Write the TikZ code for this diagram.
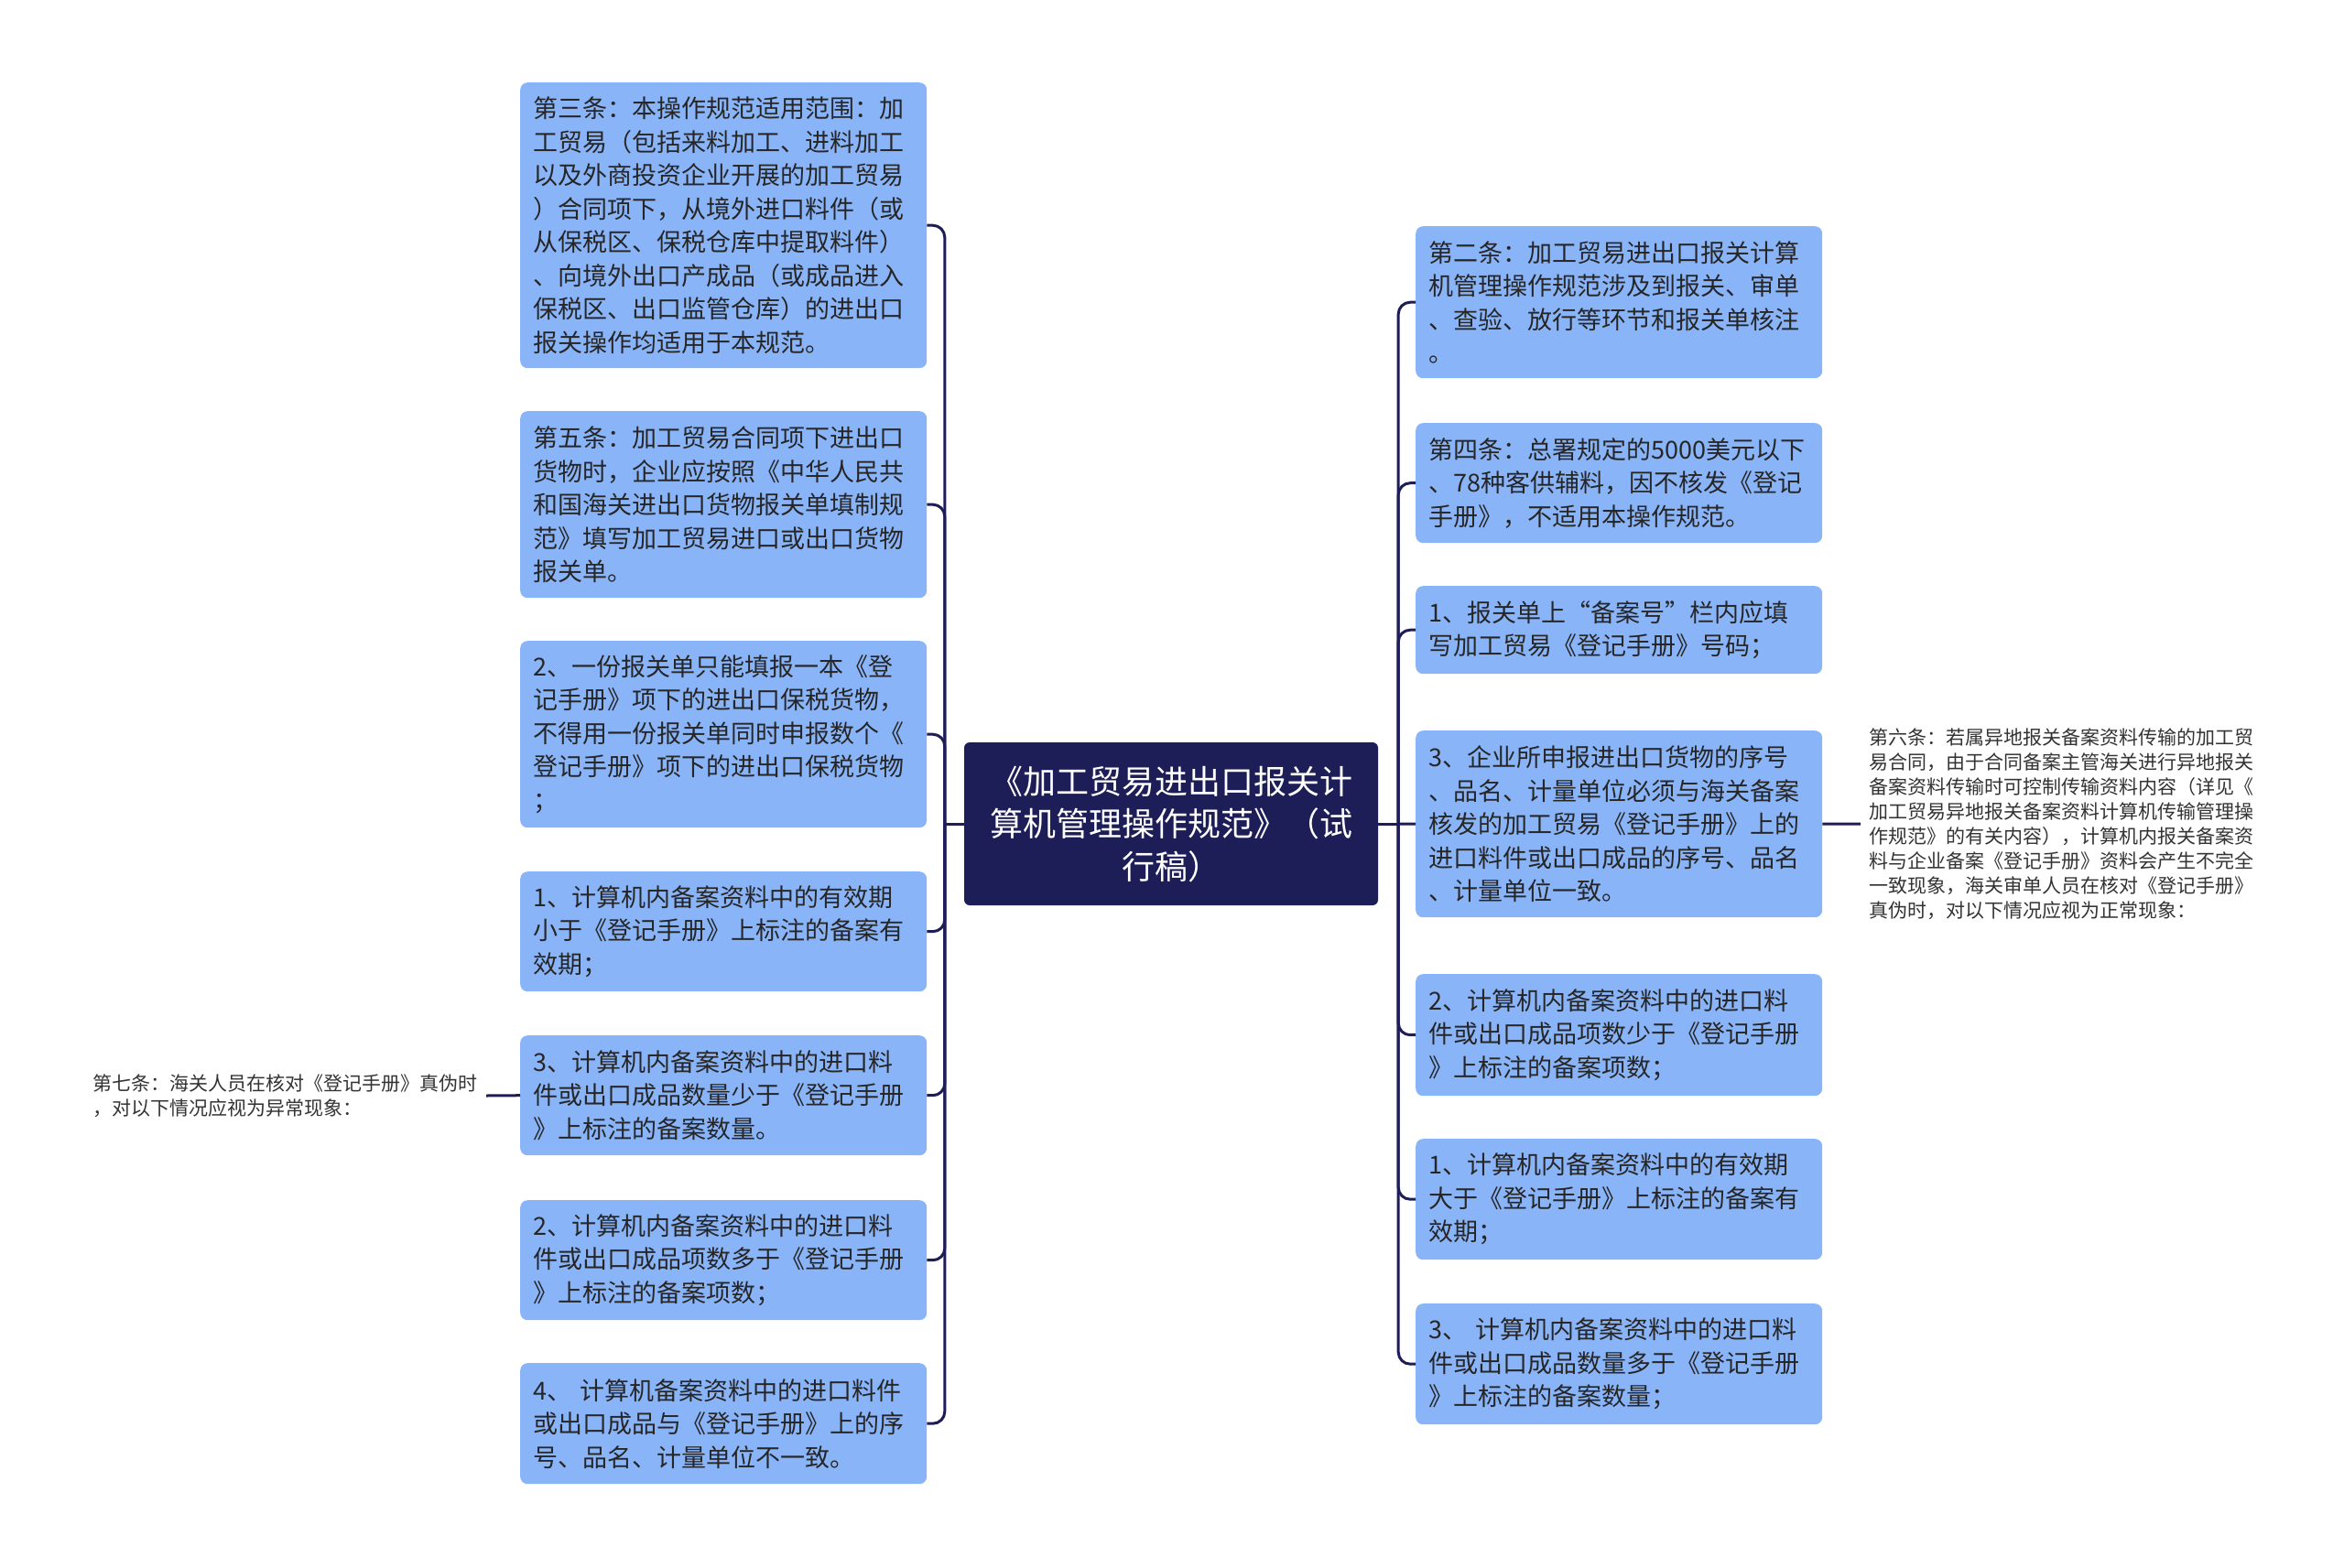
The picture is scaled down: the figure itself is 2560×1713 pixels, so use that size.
\documentclass[tikz,border=0pt]{standalone}
\usepackage{fontspec}
\setmainfont{Noto Sans CJK SC}
\usetikzlibrary{calc,positioning}
\definecolor{navy}{RGB}{29,29,88}
\definecolor{leafblue}{RGB}{138,180,248}
\definecolor{notegray}{RGB}{51,51,51}

\begin{document}
\begin{tikzpicture}[x=1pt,y=-1pt,
root/.style = {rectangle, rounded corners=6pt, fill=navy, text=white, minimum width=452pt,
               minimum height=178pt, text width=430pt, align=center,
               font=\fontsize{36}{46.5}\selectfont},
leaf/.style = {rectangle, rounded corners=8pt, fill=leafblue, text=black!85, anchor=north west,
               text width=416pt, inner xsep=14pt, inner ysep=8pt, align=left,
               font=\fontsize{27}{36.5}\selectfont},
note/.style = {text=notegray, inner xsep=9pt, inner ysep=0pt, align=left,
               font=\fontsize{21}{27}\selectfont},
branch/.style = {draw=navy, line width=3pt, rounded corners=13pt}]

\fill[white] (0,0) rectangle (2560,1713);
\useasboundingbox (0,0) rectangle (2560,1713);

% root
\node [root] (root) at (1279,900) {《加工贸易进出口报关计\\算机管理操作规范》（试\\行稿）};
\coordinate (lhub) at ($(root.west)+(-21,0)$);
\coordinate (rhub) at ($(root.east)+(22,0)$);

% left column
\node [leaf, minimum height=312pt] (art3) at (568,90) {第三条：本操作规范适用范围：加\\工贸易（包括来料加工、进料加工\\以及外商投资企业开展的加工贸易\\）合同项下，从境外进口料件（或\\从保税区、保税仓库中提取料件）\\、向境外出口产成品（或成品进入\\保税区、出口监管仓库）的进出口\\报关操作均适用于本规范。};
\node [leaf, minimum height=204pt] (art5) at (568,449) {第五条：加工贸易合同项下进出口\\货物时，企业应按照《中华人民共\\和国海关进出口货物报关单填制规\\范》填写加工贸易进口或出口货物\\报关单。};
\node [leaf, minimum height=204pt] (one_form) at (568,700) {2、一份报关单只能填报一本《登\\记手册》项下的进出口保税货物，\\不得用一份报关单同时申报数个《\\登记手册》项下的进出口保税货物\\；};
\node [leaf, minimum height=131pt] (valid_less) at (568,952) {1、计算机内备案资料中的有效期\\小于《登记手册》上标注的备案有\\效期；};
\node [leaf, minimum height=131pt] (qty_less) at (568,1131) {3、计算机内备案资料中的进口料\\件或出口成品数量少于《登记手册\\》上标注的备案数量。};
\node [leaf, minimum height=131pt] (items_more) at (568,1311) {2、计算机内备案资料中的进口料\\件或出口成品项数多于《登记手册\\》上标注的备案项数；};
\node [leaf, minimum height=132pt] (mismatch) at (568,1489) {4、 计算机备案资料中的进口料件\\或出口成品与《登记手册》上的序\\号、品名、计量单位不一致。};
\node [note, anchor=east] (art7) at (531,1197) {第七条：海关人员在核对《登记手册》真伪时\\，对以下情况应视为异常现象：};

% right column
\node [leaf, minimum height=166pt] (art2) at (1546,247) {第二条：加工贸易进出口报关计算\\机管理操作规范涉及到报关、审单\\、查验、放行等环节和报关单核注\\。};
\node [leaf, minimum height=131pt] (art4) at (1546,462) {第四条：总署规定的5000美元以下\\、78种客供辅料，因不核发《登记\\手册》，不适用本操作规范。};
\node [leaf, minimum height=96pt] (record_no) at (1546,640) {1、报关单上“备案号”栏内应填\\写加工贸易《登记手册》号码；};
\node [leaf, minimum height=204pt] (seq_match) at (1546,798) {3、企业所申报进出口货物的序号\\、品名、计量单位必须与海关备案\\核发的加工贸易《登记手册》上的\\进口料件或出口成品的序号、品名\\、计量单位一致。};
\node [leaf, minimum height=133pt] (items_less) at (1546,1064) {2、计算机内备案资料中的进口料\\件或出口成品项数少于《登记手册\\》上标注的备案项数；};
\node [leaf, minimum height=132pt] (valid_more) at (1546,1244) {1、计算机内备案资料中的有效期\\大于《登记手册》上标注的备案有\\效期；};
\node [leaf, minimum height=132pt] (qty_more) at (1546,1424) {3、 计算机内备案资料中的进口料\\件或出口成品数量多于《登记手册\\》上标注的备案数量；};
\node [note, anchor=west] (art6) at (2032,900) {第六条：若属异地报关备案资料传输的加工贸\\易合同，由于合同备案主管海关进行异地报关\\备案资料传输时可控制传输资料内容（详见《\\加工贸易异地报关备案资料计算机传输管理操\\作规范》的有关内容），计算机内报关备案资\\料与企业备案《登记手册》资料会产生不完全\\一致现象，海关审单人员在核对《登记手册》\\真伪时，对以下情况应视为正常现象：};

\begin{scope}[every path/.style=branch]
% left side
\path (root.west) -- (lhub);
\foreach \n in {art3,art5,one_form,valid_less,qty_less,items_more,mismatch}
  \path (lhub) |- (\n.east);
% right side
\path (root.east) -- (rhub);
\foreach \n in {art2,art4,record_no,items_less,valid_more,qty_more}
  \path (rhub) |- (\n.west);
\path (rhub) -- (seq_match.west);
% notes
\path (qty_less.west) -- (art7.east);
\path (seq_match.east) -- (art6.west);
\end{scope}
\end{tikzpicture}
\end{document}
